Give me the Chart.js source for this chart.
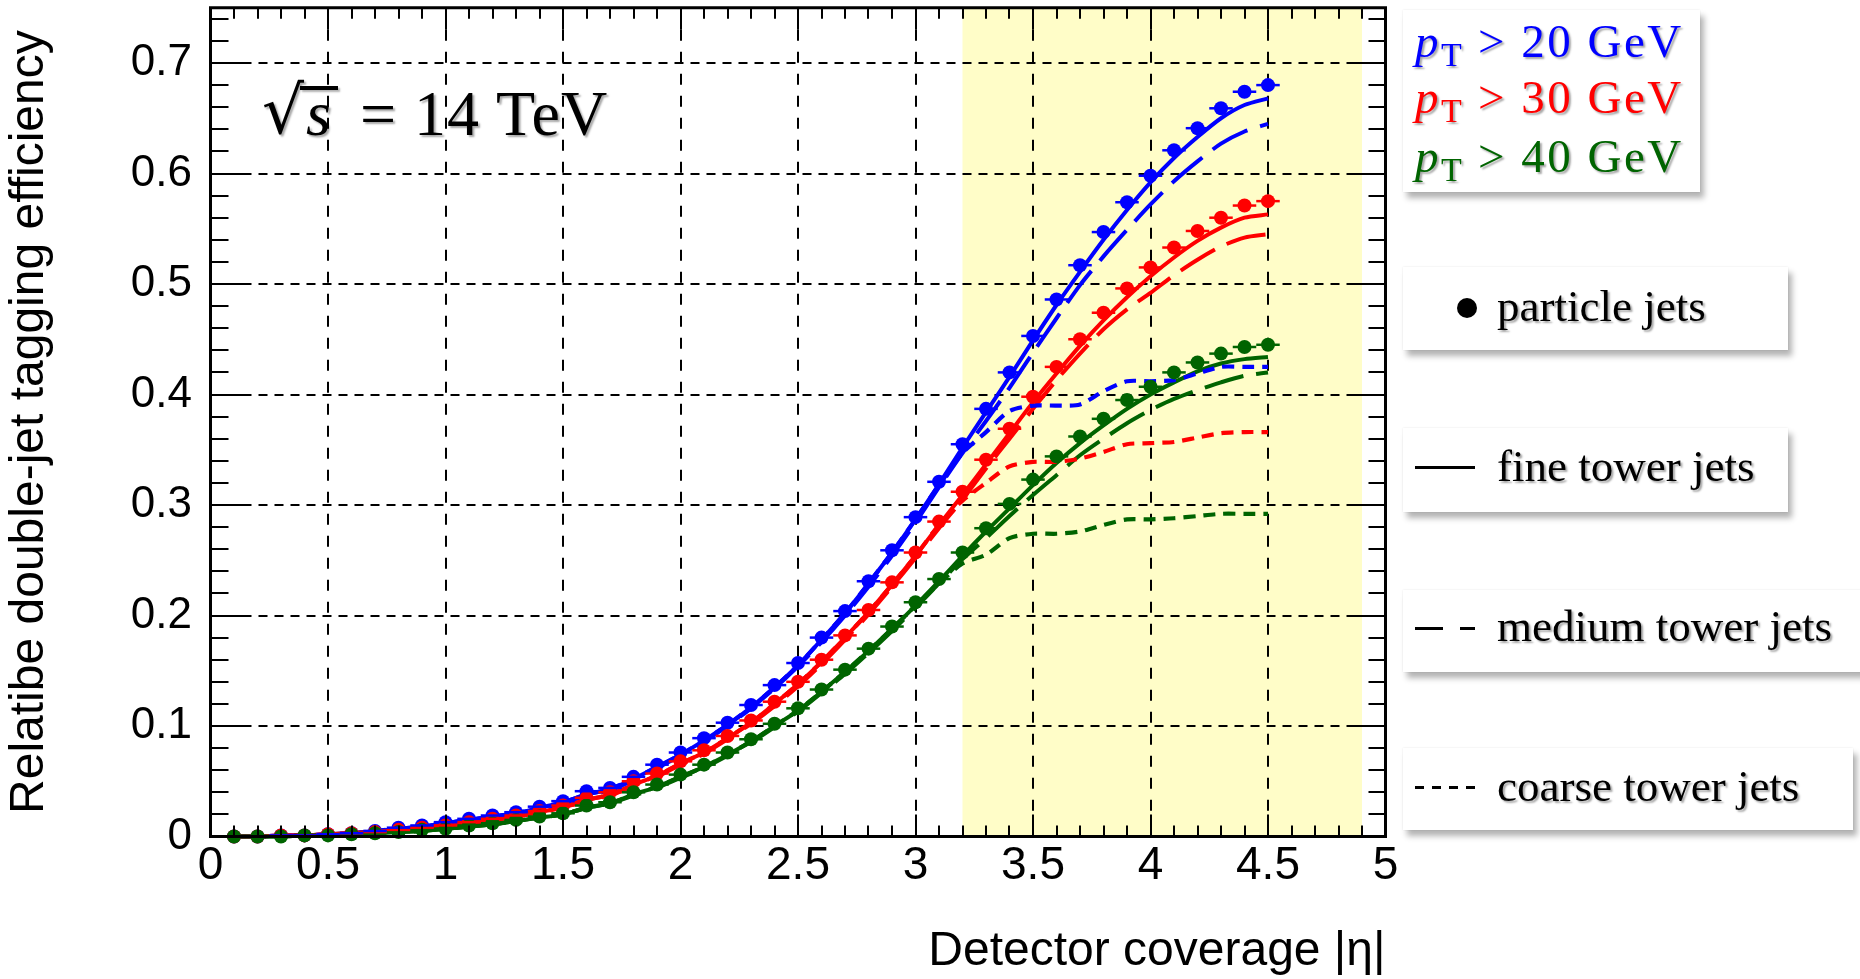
<!DOCTYPE html>
<html>
<head>
<meta charset="utf-8">
<title>Relative double-jet tagging efficiency vs detector coverage</title>
<script src="https://cdn.jsdelivr.net/npm/chart.js@4.4.1/dist/chart.umd.min.js"></script>
<style>
  html, body { margin: 0; padding: 0; background: #fff; overflow: hidden; }
  #stage { position: relative; width: 1860px; height: 979px; }
  #plot { position: absolute; left: 0; top: 0; }
  .panel { position: absolute; background: #fff;
           box-shadow: 4px 6px 6px rgba(0,0,0,0.30), 0 0 2px rgba(0,0,0,0.10); }
  .txt { position: absolute; font-family: "Liberation Serif", "DejaVu Serif", serif;
         white-space: pre; line-height: 1; text-shadow: 2px 2px 2px rgba(0,0,0,0.35); }
  .cut { font-size: 47px; letter-spacing: 2.5px; }
  .cut i { font-style: italic; }
  .cut .sub { font-size: 34px; position: relative; top: 9px; margin-right: 2px; letter-spacing: 0; }
  .lab { font-size: 45px; color: #000; }
  .key { position: absolute; background: #000; height: 3px; }
  .dot { position: absolute; width: 20px; height: 20px; border-radius: 50%; background: #000; }
  .energy { font-size: 64px; color: #000; }
</style>
</head>
<body>
<div id="stage">
  <canvas id="plot" width="1860" height="979"></canvas>

  <!-- sqrt(s) label -->
  <div class="txt energy" style="left:262px; top:78px; font-family:'DejaVu Serif'; font-size:66px;">√</div>
  <div style="position:absolute; left:300px; top:86px; width:38px; height:4px; background:#000; box-shadow: 2px 2px 2px rgba(0,0,0,0.3);"></div>
  <div class="txt energy" style="left:306px; top:82px;"><i>s</i></div>
  <div class="txt energy" style="left:360px; top:82px; letter-spacing:1px;">= 14 TeV</div>

  <!-- pT thresholds -->
  <div class="panel" style="left:1403px; top:10px; width:297px; height:182px;"></div>
  <div class="txt cut" style="left:1415px; top:18px; color:#0000ff;"><i>p</i><span class="sub">T</span> &gt; 20 GeV</div>
  <div class="txt cut" style="left:1415px; top:74px; color:#ff0000;"><i>p</i><span class="sub">T</span> &gt; 30 GeV</div>
  <div class="txt cut" style="left:1415px; top:133px; color:#006400;"><i>p</i><span class="sub">T</span> &gt; 40 GeV</div>

  <!-- jet-type keys -->
  <div class="panel" style="left:1403px; top:267px; width:385px; height:83px;"></div>
  <div class="dot" style="left:1457px; top:298px;"></div>
  <div class="txt lab" style="left:1497px; top:284px;">particle jets</div>

  <div class="panel" style="left:1403px; top:428px; width:385px; height:84px;"></div>
  <div class="key" style="left:1415px; top:466px; width:60px;"></div>
  <div class="txt lab" style="left:1497px; top:444px;">fine tower jets</div>

  <div class="panel" style="left:1403px; top:590px; width:470px; height:82px;"></div>
  <div class="key" style="left:1415px; top:627px; width:28px;"></div>
  <div class="key" style="left:1460px; top:627px; width:15px;"></div>
  <div class="txt lab" style="left:1497px; top:604px;">medium tower jets</div>

  <div class="panel" style="left:1403px; top:748px; width:450px; height:82px;"></div>
  <div class="key" style="left:1415px; top:786px; width:9px;"></div>
  <div class="key" style="left:1432px; top:786px; width:9px;"></div>
  <div class="key" style="left:1449px; top:786px; width:9px;"></div>
  <div class="key" style="left:1466px; top:786px; width:9px;"></div>
  <div class="txt lab" style="left:1497px; top:764px;">coarse tower jets</div>
</div>

<script>
// |eta| coverage bins (bin centres)
const eta = [0.1,0.2,0.3,0.4,0.5,0.6,0.7,0.8,0.9,1.0,
             1.1,1.2,1.3,1.4,1.5,1.6,1.7,1.8,1.9,2.0,
             2.1,2.2,2.3,2.4,2.5,2.6,2.7,2.8,2.9,3.0,
             3.1,3.2,3.3,3.4,3.5,3.6,3.7,3.8,3.9,4.0,
             4.1,4.2,4.3,4.4,4.5];
const binHalfWidth = 0.05;

// pT > 20 GeV
const pt20Particle = [0.000,0.000,0.001,0.001,0.002,0.003,0.005,0.008,0.010,0.013,
                      0.016,0.019,0.022,0.027,0.032,0.041,0.044,0.054,0.065,0.076,
                      0.089,0.103,0.119,0.137,0.157,0.180,0.204,0.231,0.259,0.289,
                      0.321,0.355,0.387,0.420,0.453,0.486,0.517,0.547,0.574,0.598,
                      0.621,0.641,0.659,0.674,0.680];
const pt20Fine     = [0.000,0.000,0.001,0.001,0.002,0.003,0.005,0.007,0.009,0.012,
                      0.015,0.018,0.021,0.026,0.031,0.038,0.043,0.052,0.063,0.074,
                      0.087,0.101,0.117,0.135,0.155,0.178,0.202,0.229,0.257,0.287,
                      0.319,0.352,0.384,0.416,0.449,0.481,0.511,0.540,0.567,0.592,
                      0.614,0.633,0.650,0.662,0.668];
const pt20Medium   = [0.000,0.000,0.001,0.001,0.002,0.003,0.004,0.007,0.009,0.012,
                      0.015,0.018,0.021,0.025,0.030,0.037,0.042,0.051,0.062,0.073,
                      0.086,0.100,0.116,0.134,0.154,0.176,0.200,0.226,0.254,0.284,
                      0.316,0.347,0.376,0.406,0.438,0.469,0.499,0.525,0.549,0.572,
                      0.593,0.611,0.627,0.638,0.645];
const pt20Coarse   = [0.000,0.000,0.001,0.001,0.002,0.003,0.005,0.007,0.009,0.012,
                      0.015,0.018,0.021,0.026,0.031,0.038,0.043,0.052,0.063,0.074,
                      0.087,0.101,0.117,0.135,0.155,0.178,0.202,0.229,0.257,0.287,
                      0.318,0.347,0.366,0.385,0.390,0.390,0.391,0.403,0.412,0.412,
                      0.413,0.419,0.425,0.425,0.425];

// pT > 30 GeV
const pt30Particle = [0.000,0.000,0.001,0.001,0.002,0.003,0.004,0.006,0.008,0.010,
                      0.013,0.016,0.019,0.023,0.028,0.035,0.040,0.050,0.057,0.068,
                      0.078,0.091,0.105,0.122,0.140,0.160,0.182,0.205,0.230,0.257,
                      0.285,0.312,0.341,0.369,0.398,0.425,0.450,0.474,0.496,0.515,
                      0.533,0.548,0.560,0.571,0.575];
const pt30Fine     = [0.000,0.000,0.001,0.001,0.002,0.003,0.004,0.006,0.008,0.010,
                      0.012,0.015,0.018,0.022,0.027,0.033,0.038,0.047,0.055,0.066,
                      0.076,0.089,0.103,0.120,0.138,0.158,0.180,0.203,0.228,0.254,
                      0.282,0.309,0.337,0.365,0.393,0.419,0.444,0.467,0.488,0.507,
                      0.524,0.539,0.551,0.560,0.563];
const pt30Medium   = [0.000,0.000,0.001,0.001,0.002,0.003,0.004,0.006,0.008,0.010,
                      0.012,0.015,0.018,0.022,0.026,0.033,0.037,0.046,0.054,0.065,
                      0.075,0.088,0.102,0.118,0.136,0.156,0.178,0.201,0.226,0.252,
                      0.279,0.305,0.333,0.360,0.387,0.413,0.437,0.459,0.477,0.492,
                      0.508,0.522,0.534,0.542,0.545];
const pt30Coarse   = [0.000,0.000,0.001,0.001,0.002,0.003,0.004,0.006,0.008,0.010,
                      0.012,0.015,0.018,0.022,0.027,0.033,0.038,0.047,0.055,0.066,
                      0.076,0.089,0.103,0.120,0.138,0.158,0.180,0.203,0.228,0.254,
                      0.282,0.304,0.320,0.335,0.339,0.339,0.342,0.348,0.355,0.356,
                      0.357,0.361,0.365,0.366,0.366];

// pT > 40 GeV
const pt40Particle = [0.000,0.000,0.000,0.001,0.001,0.002,0.003,0.004,0.006,0.007,
                      0.010,0.012,0.015,0.018,0.021,0.028,0.031,0.040,0.047,0.056,
                      0.065,0.076,0.088,0.102,0.116,0.133,0.151,0.170,0.190,0.212,
                      0.233,0.257,0.279,0.301,0.323,0.344,0.362,0.378,0.395,0.407,
                      0.420,0.429,0.437,0.443,0.445];
const pt40Fine     = [0.000,0.000,0.000,0.001,0.001,0.002,0.003,0.004,0.005,0.007,
                      0.009,0.011,0.014,0.017,0.020,0.026,0.030,0.038,0.045,0.054,
                      0.063,0.074,0.086,0.100,0.114,0.131,0.149,0.168,0.188,0.209,
                      0.231,0.254,0.276,0.297,0.318,0.338,0.356,0.372,0.387,0.400,
                      0.411,0.421,0.428,0.432,0.434];
const pt40Medium   = [0.000,0.000,0.000,0.001,0.001,0.002,0.003,0.004,0.005,0.007,
                      0.009,0.011,0.014,0.017,0.020,0.026,0.030,0.037,0.044,0.053,
                      0.062,0.073,0.085,0.099,0.113,0.130,0.147,0.166,0.186,0.207,
                      0.229,0.251,0.270,0.290,0.309,0.327,0.345,0.360,0.374,0.386,
                      0.396,0.404,0.411,0.417,0.420];
const pt40Coarse   = [0.000,0.000,0.000,0.001,0.001,0.002,0.003,0.004,0.005,0.007,
                      0.009,0.011,0.014,0.017,0.020,0.026,0.030,0.038,0.045,0.054,
                      0.063,0.074,0.086,0.100,0.114,0.131,0.149,0.168,0.188,0.209,
                      0.229,0.247,0.255,0.270,0.274,0.274,0.276,0.282,0.287,0.287,
                      0.288,0.290,0.292,0.292,0.292];

// axis tick labels and the shaded forward-calorimeter region
const xTickValues = [0,0.5,1,1.5,2,2.5,3,3.5,4,4.5,5];
const yTickValues = [0,0.1,0.2,0.3,0.4,0.5,0.6,0.7];
const forwardRegion = [3.2, 4.9];

const BLUE = '#0000ff', RED = '#ff0000', GREEN = '#006400';
const FINE = [], MEDIUM = [40, 13], COARSE = [12, 8];

function pts(values) { return values.map((v, i) => ({ x: eta[i], y: v })); }

function particle(values, color) {
  return { data: pts(values), showLine: false, pointRadius: 7, pointHoverRadius: 7,
           pointBackgroundColor: color, pointBorderColor: color, pointBorderWidth: 0,
           borderColor: color, order: 0, clip: false, errorBars: true };
}
function curve(values, color, dash, width) {
  return { data: pts(values), borderColor: color, borderWidth: width, borderDash: dash,
           pointRadius: 0, fill: false, tension: 0.25, order: 1, clip: false };
}

const datasets = [
  curve(pt40Coarse, GREEN, COARSE, 4.2), curve(pt30Coarse, RED, COARSE, 4.2), curve(pt20Coarse, BLUE, COARSE, 4.2),
  curve(pt40Medium, GREEN, MEDIUM, 4), curve(pt30Medium, RED, MEDIUM, 4), curve(pt20Medium, BLUE, MEDIUM, 4),
  curve(pt40Fine, GREEN, FINE, 4), curve(pt30Fine, RED, FINE, 4), curve(pt20Fine, BLUE, FINE, 4),
  particle(pt40Particle, GREEN), particle(pt30Particle, RED), particle(pt20Particle, BLUE)
];

// ROOT-style frame: shaded band, dashed grid, inward ticks on all four sides
const rootFrame = {
  id: 'rootFrame',
  beforeDatasetsDraw(chart) {
    const { ctx, chartArea: a, scales: { x, y } } = chart;
    ctx.save();
    const x0 = x.getPixelForValue(forwardRegion[0]);
    const x1 = x.getPixelForValue(forwardRegion[1]);
    ctx.fillStyle = 'rgb(255,253,200)';
    ctx.fillRect(x0, a.top, x1 - x0, a.bottom - a.top);

    ctx.strokeStyle = '#000';
    ctx.lineWidth = 2;
    ctx.setLineDash([11, 11]);
    xTickValues.slice(1, -1).forEach(v => {
      const px = Math.round(x.getPixelForValue(v));
      ctx.beginPath(); ctx.moveTo(px, a.top); ctx.lineTo(px, a.bottom); ctx.stroke();
    });
    ctx.setLineDash([9, 7]);
    yTickValues.slice(1).forEach(v => {
      const py = Math.round(y.getPixelForValue(v));
      ctx.beginPath(); ctx.moveTo(a.left, py); ctx.lineTo(a.right, py); ctx.stroke();
    });
    ctx.restore();
  },
  afterDatasetsDraw(chart) {
    const { ctx, chartArea: a, scales: { x, y } } = chart;
    ctx.save();
    // horizontal bin-width bars on the particle-level points
    chart.data.datasets.forEach(ds => {
      if (!ds.errorBars) return;
      ctx.strokeStyle = ds.borderColor;
      ctx.lineWidth = 2.5;
      ds.data.forEach(p => {
        const py = y.getPixelForValue(p.y);
        ctx.beginPath();
        ctx.moveTo(x.getPixelForValue(p.x - binHalfWidth), py);
        ctx.lineTo(x.getPixelForValue(p.x + binHalfWidth), py);
        ctx.stroke();
      });
    });

    ctx.strokeStyle = '#000';
    ctx.setLineDash([]);
    ctx.lineWidth = 2;
    // x ticks every 0.1, long ones on the labelled values
    for (let i = 1; i < 50; i++) {
      const px = Math.round(x.getPixelForValue(i / 10));
      const len = i % 5 === 0 ? 22 : 11;
      ctx.beginPath();
      ctx.moveTo(px, a.bottom); ctx.lineTo(px, a.bottom - len);
      ctx.moveTo(px, a.top); ctx.lineTo(px, a.top + len);
      ctx.stroke();
    }
    // y ticks every 0.02
    for (let i = 1; i <= 37; i++) {
      const py = Math.round(y.getPixelForValue(i / 50));
      const major = i % 5 === 0;
      ctx.beginPath();
      ctx.moveTo(a.left, py); ctx.lineTo(a.left + (major ? 36 : 18), py);
      ctx.moveTo(a.right, py); ctx.lineTo(a.right - (major ? 34 : 17), py);
      ctx.stroke();
    }
    ctx.lineWidth = 3;
    ctx.strokeRect(a.left, a.top, a.right - a.left, a.bottom - a.top);
    ctx.restore();
  }
};

new Chart(document.getElementById('plot'), {
  type: 'line',
  data: { datasets },
  options: {
    responsive: false,
    devicePixelRatio: 1,
    animation: false,
    events: [],
    layout: { padding: { left: 0, right: 474.5, top: 7.75, bottom: 0 } },
    plugins: { legend: { display: false }, tooltip: { enabled: false } },
    scales: {
      x: {
        type: 'linear', min: 0, max: 5,
        grid: { display: false, drawTicks: false },
        border: { display: false },
        afterBuildTicks: s => { s.ticks = xTickValues.map(v => ({ value: v })); },
        afterFit: s => { s.height = 142.5; s.paddingLeft = 0; s.paddingRight = 0; },
        ticks: { color: '#000', padding: 2.5, maxRotation: 0, autoSkip: false,
                 font: { family: 'Liberation Sans', size: 46 },
                 callback: v => String(v) },
        title: { display: true, text: 'Detector coverage |η|', align: 'end', color: '#000',
                 padding: { top: 0, bottom: 3.5 },
                 font: { family: 'Liberation Sans', size: 48, lineHeight: 1 } }
      },
      y: {
        type: 'linear', min: 0, max: 0.75,
        grid: { display: false, drawTicks: false },
        border: { display: false },
        afterBuildTicks: s => { s.ticks = yTickValues.map(v => ({ value: v })); },
        afterFit: s => { s.width = 210.5; s.paddingTop = 0; s.paddingBottom = 0; },
        ticks: { color: '#000', padding: 18.5, autoSkip: false,
                 font: { family: 'Liberation Sans', size: 44 },
                 callback: v => String(v) },
        title: { display: true, text: 'Relatibe double-jet tagging efficiency', color: '#000',
                 padding: { top: 6, bottom: 0 },
                 font: { family: 'Liberation Sans', size: 48, lineHeight: 1 } }
      }
    }
  },
  plugins: [rootFrame]
});
</script>
</body>
</html>
